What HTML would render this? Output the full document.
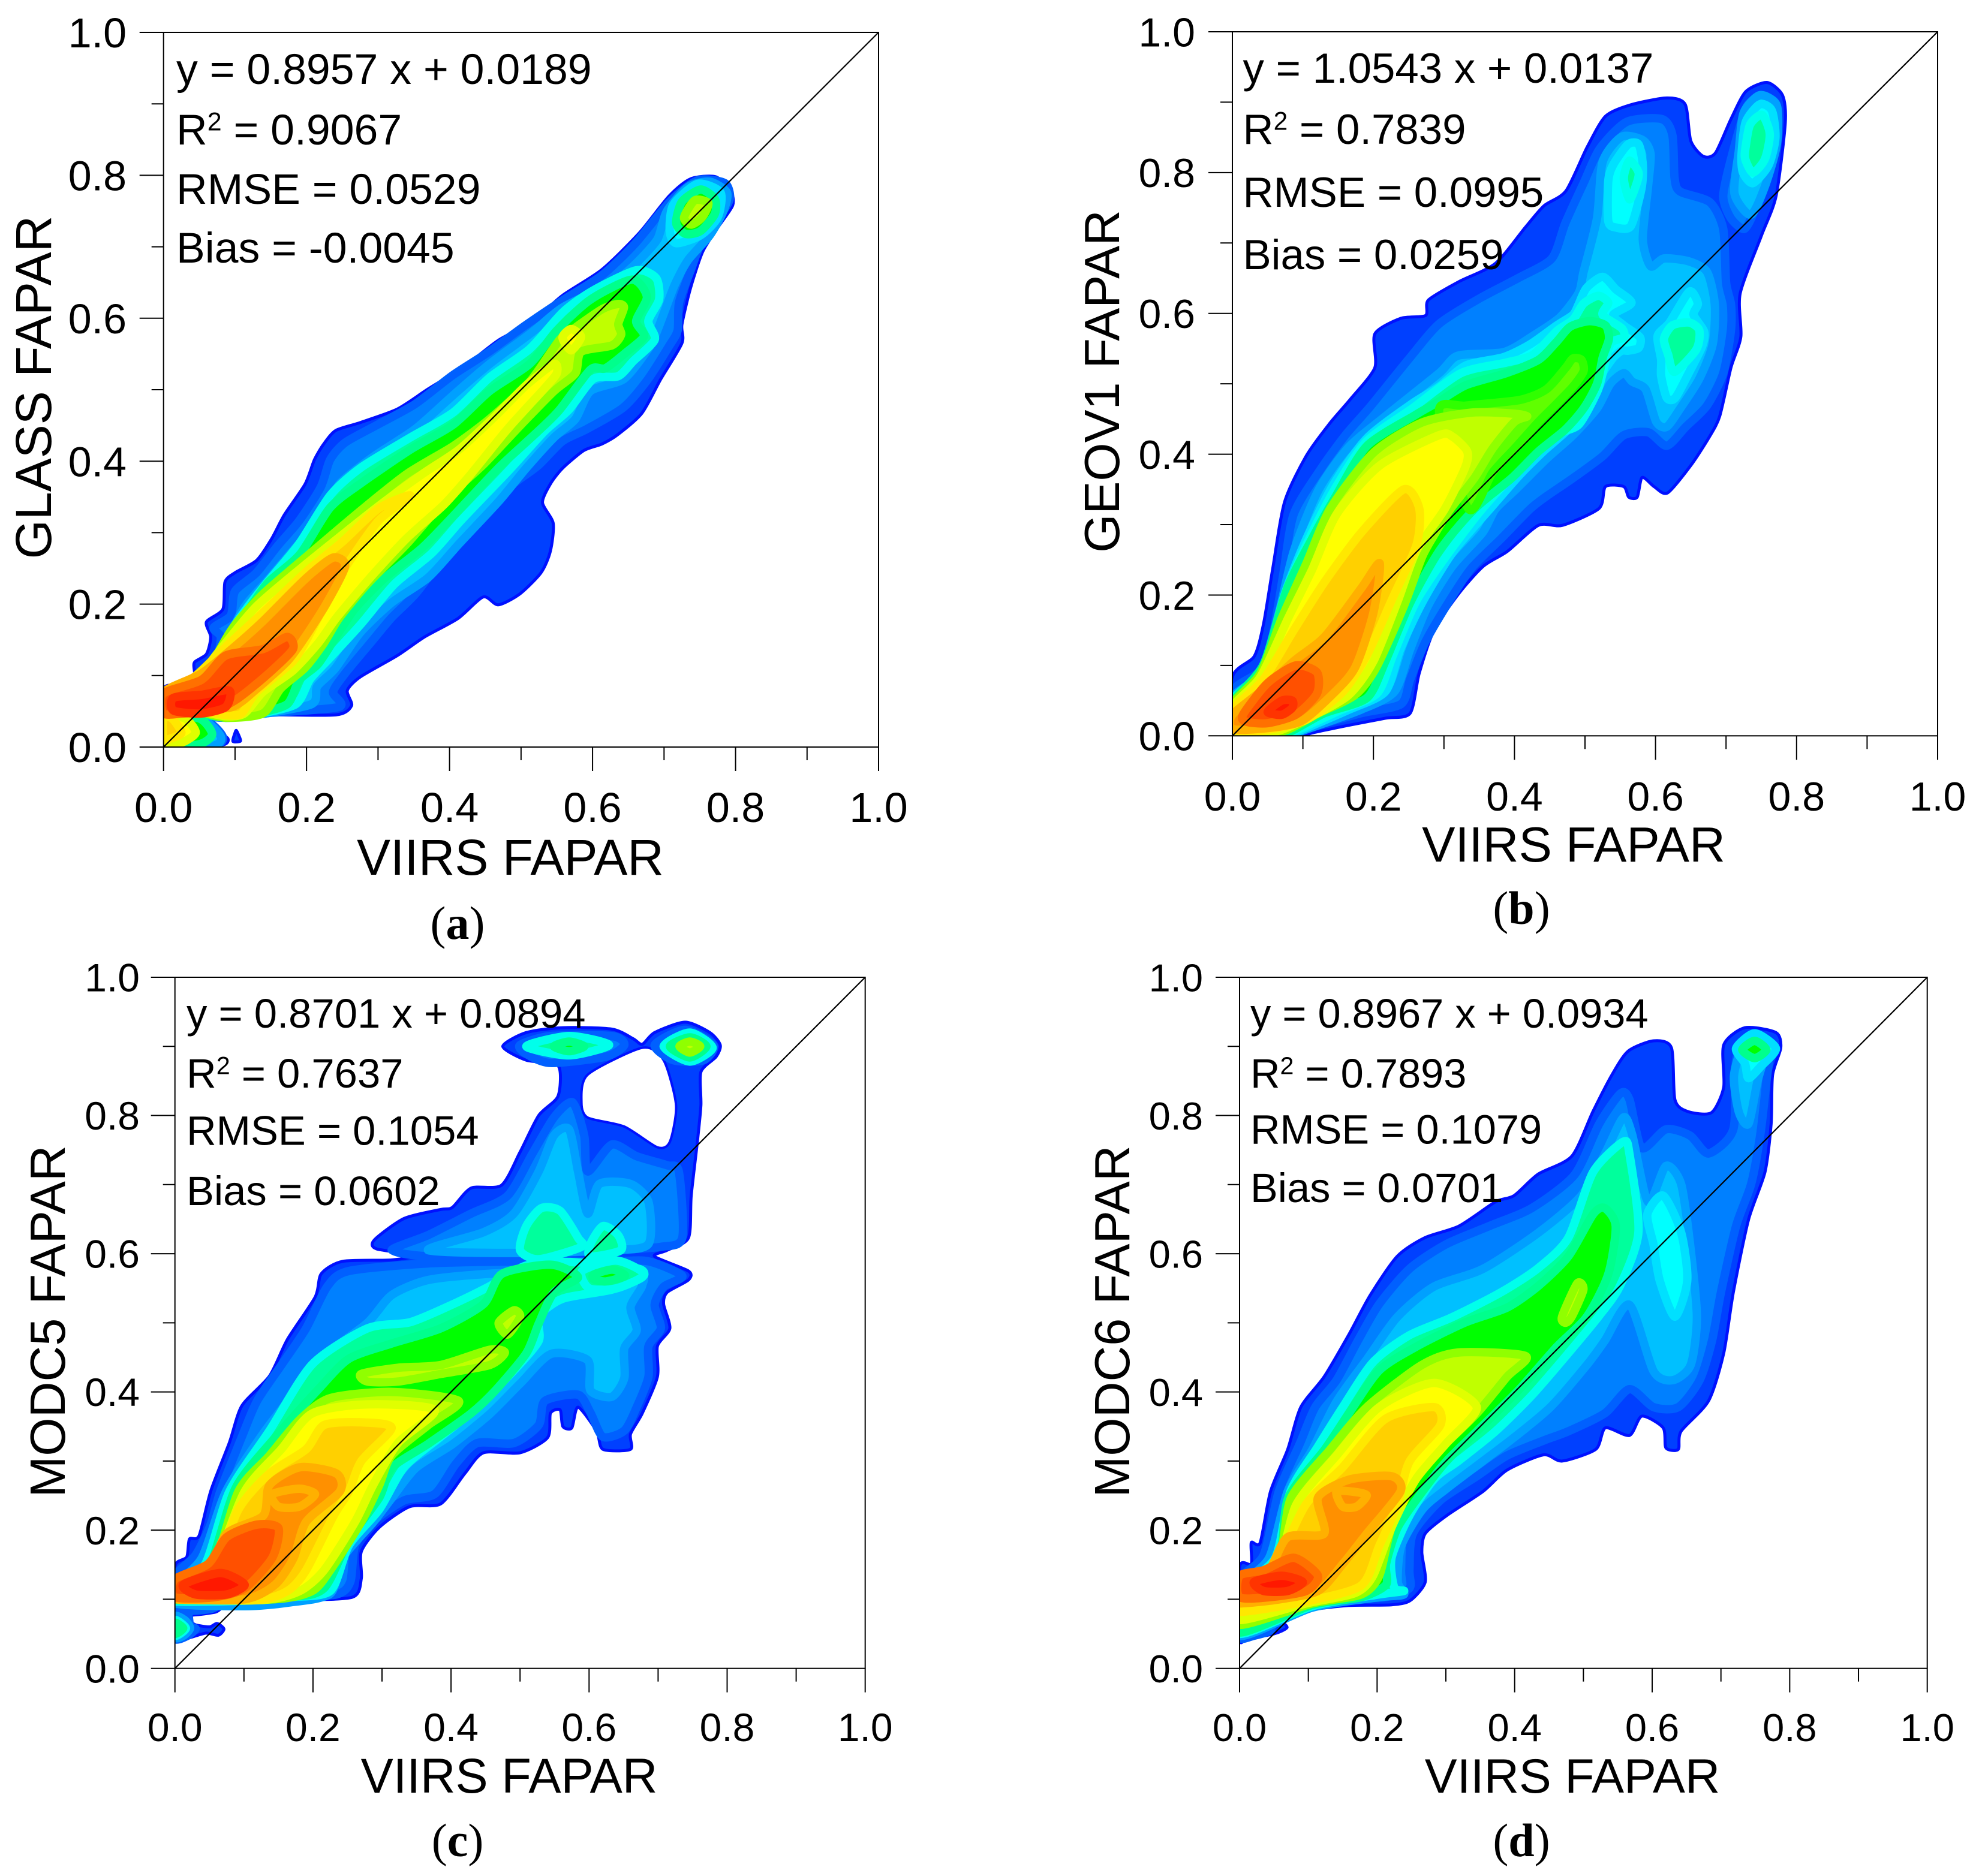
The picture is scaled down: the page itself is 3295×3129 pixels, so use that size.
<!DOCTYPE html>
<html>
<head>
<meta charset="utf-8">
<title>FAPAR density scatter comparison</title>
<style>
html,body{margin:0;padding:0;background:#fff}
svg{display:block}
text{font-family:"Liberation Sans",sans-serif;fill:#000}
.cap{font-family:"Liberation Serif",serif}
</style>
</head>
<body>
<svg id="figure" xmlns="http://www.w3.org/2000/svg" width="3295" height="3129" viewBox="0 0 3295 3129">
<rect width="3295" height="3129" fill="#fff"/>
</svg>
<script>
// ---- shared axis data ----
const majorTicks = [0, 0.2, 0.4, 0.6, 0.8, 1.0];
const minorTicks = [0.1, 0.3, 0.5, 0.7, 0.9];
const tickLabels = ['0.0', '0.2', '0.4', '0.6', '0.8', '1.0'];
const identityLine = [0, 1];

// ---- panel (a) density contours, [VIIRS, GLASS] ----
const aOuter = [[0,.081],[.027,.084],[.043,.098],[.043,.118],[.06,.13],[.066,.154],[.06,.175],[.083,.193],[.086,.231],[.1,.244],[.13,.261],[.151,.291],[.169,.325],[.198,.368],[.211,.402],[.224,.424],[.241,.443],[.275,.454],[.327,.473],[.37,.501],[.421,.533],[.468,.569],[.515,.595],[.558,.632],[.613,.668],[.665,.719],[.707,.771],[.737,.795],[.772,.798],[.793,.779],[.796,.758],[.776,.728],[.754,.693],[.737,.642],[.725,.591],[.725,.565],[.695,.514],[.669,.467],[.635,.437],[.613,.424],[.588,.415],[.558,.39],[.541,.368],[.53,.342],[.545,.313],[.541,.274],[.528,.244],[.498,.214],[.468,.199],[.447,.21],[.412,.18],[.365,.154],[.327,.128],[.275,.098],[.257,.079],[.263,.058],[.241,.045],[.139,.045],[.087,.04],[.056,.034],[.073,.024],[.09,.012],[.083,.003],[.03,0],[-.01,-.01]];
const aSpeck = [[.097,.008],[.1,.02],[.102,.023],[.107,.012],[.107,.008]];
const aMidBlue = [[0,.073],[.027,.079],[.053,.107],[.074,.124],[.08,.154],[.07,.167],[.094,.184],[.1,.218],[.13,.244],[.16,.282],[.19,.317],[.22,.364],[.233,.402],[.254,.426],[.301,.452],[.352,.48],[.404,.52],[.455,.553],[.506,.59],[.558,.625],[.613,.66],[.66,.705],[.708,.763],[.747,.793],[.785,.789],[.792,.767],[.777,.741],[.751,.703],[.738,.669],[.721,.622],[.719,.583],[.707,.561],[.677,.514],[.643,.475],[.592,.445],[.558,.428],[.524,.394],[.489,.368],[.464,.343],[.43,.309],[.392,.266],[.353,.215],[.319,.181],[.293,.15],[.254,.103],[.237,.077],[.245,.056],[.139,.047],[.087,.041],[.053,.043],[0,.04]];
const aMidBlueBlob = [[0,.042],[.06,.036],[.083,.014],[.07,.001],[0,0]];
const aLightBlue = [[0,.07],[.036,.081],[.066,.115],[.092,.137],[.1,.171],[.117,.201],[.147,.235],[.18,.274],[.224,.325],[.246,.368],[.293,.406],[.352,.445],[.408,.495],[.456,.536],[.515,.58],[.558,.615],[.619,.645],[.64,.658],[.666,.682],[.691,.711],[.704,.75],[.734,.784],[.764,.791],[.788,.776],[.783,.75],[.764,.716],[.734,.682],[.715,.647],[.702,.613],[.689,.579],[.678,.557],[.644,.515],[.597,.498],[.576,.459],[.546,.433],[.507,.39],[.469,.344],[.413,.284],[.37,.237],[.319,.202],[.275,.16],[.24,.11],[.215,.085],[.207,.06],[.13,.045],[.087,.041],[.053,.047],[0,.042]];
const aLightBlueBlob = [[0,.042],[.055,.038],[.08,.015],[.07,.002],[0,0]];
const aTopCyan = [[.708,.722],[.713,.759],[.747,.788],[.779,.776],[.775,.741],[.751,.716],[.717,.705]];
const aAqua = [[0,.07],[.04,.081],[.068,.113],[.091,.135],[.098,.167],[.12,.199],[.147,.233],[.19,.285],[.233,.352],[.276,.391],[.345,.433],[.405,.468],[.456,.517],[.512,.557],[.559,.609],[.601,.639],[.661,.667],[.689,.656],[.693,.626],[.678,.596],[.687,.57],[.657,.54],[.636,.519],[.601,.515],[.567,.472],[.533,.442],[.482,.386],[.417,.318],[.375,.271],[.323,.228],[.276,.172],[.233,.125],[.205,.095],[.185,.06],[.13,.046],[.087,.041],[.05,.047],[0,.042]];
const aGreen = [[0,.07],[.044,.081],[.07,.111],[.09,.133],[.096,.163],[.122,.197],[.147,.231],[.191,.27],[.233,.335],[.276,.369],[.345,.416],[.405,.451],[.456,.498],[.512,.536],[.55,.583],[.597,.626],[.655,.654],[.676,.63],[.661,.596],[.672,.575],[.648,.553],[.618,.53],[.597,.528],[.554,.472],[.524,.442],[.469,.391],[.404,.322],[.362,.279],[.31,.237],[.268,.194],[.241,.154],[.216,.116],[.19,.094],[.173,.06],[.13,.047],[.087,.041],[.044,.047],[0,.042]];
const aGreenBlob = [[0,.042],[.05,.04],[.068,.018],[.05,.004],[0,.002]];
const aTopGreen = [[.717,.733],[.725,.763],[.751,.78],[.771,.767],[.771,.746],[.751,.722],[.73,.718]];
const aLime = [[0,.073],[.053,.087],[.079,.137],[.1,.171],[.139,.214],[.198,.265],[.276,.331],[.34,.382],[.405,.421],[.456,.459],[.512,.511],[.554,.57],[.576,.587],[.614,.613],[.636,.62],[.644,.615],[.636,.592],[.64,.577],[.627,.562],[.584,.553],[.576,.523],[.546,.498],[.499,.45],[.447,.395],[.396,.348],[.34,.284],[.285,.228],[.246,.181],[.224,.145],[.198,.111],[.164,.082],[.139,.047],[.087,.041],[.044,.05],[0,.042]];
const aTopLime = [[.728,.741],[.743,.765],[.762,.761],[.753,.741],[.738,.731]];
const aYellow = [[0,.077],[.044,.094],[.083,.141],[.13,.197],[.198,.255],[.298,.335],[.362,.382],[.413,.416],[.464,.463],[.507,.506],[.546,.536],[.55,.523],[.533,.502],[.482,.446],[.43,.382],[.392,.339],[.34,.292],[.289,.237],[.242,.181],[.216,.145],[.181,.107],[.139,.077],[.113,.047],[.087,.043],[.044,.051],[0,.045]];
const aYellowSmall = [[.558,.573],[.57,.585],[.584,.574],[.57,.555]];
const aYellowBlob = [[0,.042],[.03,.04],[.045,.02],[.025,.006],[0,.004]];
const aGold = [[0,.073],[.044,.099],[.092,.145],[.139,.188],[.198,.244],[.25,.287],[.301,.334],[.345,.352],[.301,.317],[.258,.257],[.233,.214],[.207,.163],[.181,.12],[.13,.077],[.109,.047],[.087,.045],[.044,.051],[0,.045]];
const aGoldBlob = [[0,.04],[.012,.04],[.025,.02],[.01,.012],[0,.012]];
const aOrange = [[0,.077],[.053,.103],[.1,.141],[.139,.176],[.198,.235],[.237,.265],[.254,.253],[.228,.201],[.198,.154],[.173,.12],[.13,.081],[.096,.056],[.044,.053],[0,.047]];
const aRedOrange = [[0,.075],[.053,.094],[.087,.128],[.139,.137],[.173,.154],[.181,.137],[.147,.103],[.104,.068],[.07,.051],[.027,.047],[0,.047]];
const aRed = [[.014,.069],[.053,.073],[.092,.079],[.087,.056],[.053,.047],[.014,.051]];

// ---- panel (b) density contours, [VIIRS, GEOV1] ----
const bOuter = [[0,.084],[.031,.113],[.044,.158],[.057,.236],[.074,.332],[.105,.398],[.139,.445],[.169,.48],[.202,.523],[.202,.571],[.239,.593],[.274,.597],[.278,.619],[.321,.645],[.373,.671],[.416,.723],[.442,.753],[.473,.774],[.503,.836],[.529,.88],[.564,.896],[.616,.906],[.642,.897],[.65,.845],[.668,.823],[.685,.828],[.707,.876],[.728,.915],[.758,.928],[.78,.91],[.784,.871],[.771,.767],[.75,.71],[.72,.628],[.721,.567],[.707,.523],[.691,.454],[.676,.424],[.65,.384],[.617,.345],[.598,.354],[.581,.367],[.574,.339],[.562,.339],[.555,.354],[.529,.354],[.52,.323],[.468,.299],[.434,.299],[.39,.262],[.356,.241],[.321,.202],[.286,.15],[.265,.089],[.252,.032],[.217,.025],[.165,.015],[.113,.004],[.083,-.005],[-.01,-.01]];
const bMidBlue = [[0,.063],[.04,.093],[.057,.141],[.072,.228],[.087,.315],[.126,.38],[.161,.428],[.195,.467],[.25,.535],[.293,.585],[.35,.621],[.407,.651],[.453,.678],[.472,.728],[.498,.785],[.521,.834],[.559,.872],[.609,.876],[.624,.853],[.627,.792],[.635,.773],[.677,.758],[.696,.72],[.7,.644],[.707,.613],[.707,.576],[.696,.515],[.673,.469],[.643,.439],[.616,.412],[.59,.431],[.555,.427],[.525,.397],[.483,.366],[.445,.34],[.422,.322],[.381,.28],[.338,.237],[.303,.184],[.273,.132],[.252,.08],[.239,.045],[.182,.032],[.105,.01],[.079,-.005],[-.01,-.01]];
const bMidBlueLobe = [[.696,.766],[.707,.819],[.73,.895],[.757,.906],[.772,.895],[.772,.845],[.756,.788],[.741,.747],[.726,.72],[.707,.735]];
const bLightBlue = [[0,.054],[.04,.089],[.066,.175],[.087,.262],[.122,.349],[.165,.41],[.217,.454],[.293,.515],[.32,.54],[.385,.545],[.426,.568],[.464,.594],[.491,.629],[.498,.659],[.517,.735],[.525,.815],[.552,.851],[.582,.846],[.593,.826],[.589,.777],[.582,.705],[.593,.667],[.612,.678],[.647,.674],[.673,.659],[.684,.613],[.681,.556],[.662,.507],[.635,.465],[.616,.439],[.601,.446],[.586,.492],[.567,.503],[.555,.515],[.536,.5],[.517,.465],[.483,.427],[.445,.393],[.403,.351],[.373,.322],[.355,.289],[.312,.241],[.277,.184],[.252,.123],[.23,.063],[.182,.037],[.096,.006],[.06,-.005],[-.01,-.01]];
const bLightBlueLobe = [[.718,.83],[.725,.885],[.748,.91],[.772,.895],[.772,.84],[.755,.78],[.735,.74],[.712,.77]];
const bCyan = [[0,.05],[.044,.097],[.074,.201],[.105,.28],[.144,.358],[.191,.423],[.252,.47],[.293,.496],[.331,.526],[.385,.538],[.422,.556],[.46,.583],[.483,.598],[.491,.613],[.502,.636],[.525,.652],[.544,.634],[.566,.615],[.54,.598],[.555,.583],[.578,.566],[.576,.551],[.561,.547],[.552,.547],[.54,.537],[.525,.515],[.514,.488],[.483,.442],[.441,.404],[.407,.37],[.365,.322],[.312,.26],[.269,.189],[.238,.123],[.217,.063],[.165,.037],[.087,.004],[.05,-.005],[-.01,-.01]];
const bCentreCyan = [[.533,.788],[.54,.811],[.561,.84],[.576,.84],[.582,.811],[.58,.777],[.565,.724],[.544,.722],[.533,.731]];
const bRightCyan = [[.603,.568],[.62,.587],[.648,.631],[.66,.614],[.654,.598],[.669,.574],[.666,.553],[.647,.515],[.628,.48],[.616,.48],[.608,.511],[.608,.534]];
const bLobeCyan = [[.722,.826],[.728,.872],[.748,.897],[.765,.888],[.77,.849],[.76,.81],[.738,.785],[.724,.8]];
const bAqua = [[0,.049],[.044,.099],[.076,.205],[.109,.28],[.145,.35],[.19,.418],[.255,.465],[.324,.515],[.388,.53],[.426,.541],[.46,.575],[.483,.591],[.498,.614],[.519,.625],[.533,.615],[.525,.598],[.552,.579],[.555,.566],[.536,.557],[.525,.515],[.517,.488],[.491,.442],[.457,.427],[.419,.393],[.354,.322],[.303,.255],[.26,.19],[.228,.115],[.205,.06],[.15,.035],[.082,.004],[.045,-.005],[-.01,-.01]];
const bCentreAqua = [[.555,.792],[.563,.817],[.576,.8],[.572,.781],[.563,.762]];
const bRightAqua = [[.612,.564],[.624,.583],[.648,.587],[.662,.576],[.658,.549],[.627,.517],[.618,.541]];
const bLobeAqua = [[.728,.838],[.734,.868],[.751,.882],[.762,.855],[.755,.819],[.738,.8],[.727,.82]];
const bGreen = [[0,.047],[.044,.101],[.078,.21],[.113,.28],[.147,.341],[.191,.412],[.26,.456],[.293,.475],[.331,.498],[.388,.515],[.434,.534],[.46,.56],[.479,.581],[.506,.589],[.529,.583],[.534,.564],[.525,.537],[.517,.5],[.498,.465],[.472,.435],[.434,.404],[.396,.366],[.343,.322],[.295,.265],[.252,.189],[.217,.106],[.191,.054],[.13,.032],[.078,.004],[.04,-.005],[-.01,-.01]];
const bYellowGreen = [[.293,.461],[.331,.469],[.407,.477],[.445,.492],[.472,.522],[.483,.536],[.495,.534],[.498,.518],[.483,.496],[.457,.469],[.434,.446],[.4,.408],[.369,.374],[.335,.322]];
const bLime = [[0,.045],[.04,.089],[.07,.167],[.105,.245],[.139,.323],[.2,.402],[.269,.445],[.338,.459],[.394,.458],[.418,.454],[.4,.446],[.369,.408],[.343,.366],[.309,.322],[.286,.285],[.269,.254],[.243,.184],[.204,.097],[.174,.058],[.122,.032],[.07,.006],[0,.002]];
const bYellow = [[0,.041],[.04,.084],[.079,.167],[.113,.236],[.148,.315],[.209,.384],[.293,.427],[.312,.425],[.333,.404],[.33,.381],[.301,.322],[.261,.263],[.235,.193],[.2,.106],[.165,.058],[.113,.028],[.061,.006],[0,.003]];
const bGold = [[0,.037],[.044,.08],[.087,.15],[.131,.219],[.183,.289],[.243,.35],[.265,.323],[.261,.271],[.226,.193],[.191,.115],[.157,.063],[.105,.023],[.053,.009],[0,.006]];
const bOrange = [[0,.03],[.04,.063],[.087,.106],[.131,.141],[.183,.21],[.209,.245],[.2,.175],[.174,.097],[.139,.056],[.096,.02],[.04,.01],[0,.01]];
const bRedOrange = [[.015,.03],[.05,.075],[.09,.1],[.12,.09],[.12,.06],[.09,.03],[.05,.018],[.02,.02]];
const bRed = [[.05,.034],[.07,.05],[.085,.05],[.085,.04],[.07,.03]];

// ---- panel (c) density contours, [VIIRS, MODC5] ----
const cOuter = [[0,.148],[.017,.161],[.021,.187],[.035,.192],[.052,.257],[.079,.327],[.097,.38],[.137,.423],[.163,.476],[.203,.537],[.212,.571],[.243,.589],[.314,.591],[.35,.598],[.292,.607],[.289,.62],[.332,.651],[.385,.664],[.402,.667],[.429,.695],[.473,.699],[.5,.747],[.527,.8],[.555,.828],[.555,.872],[.509,.88],[.475,.9],[.509,.92],[.562,.927],[.633,.925],[.664,.911],[.677,.903],[.695,.92],[.739,.935],[.775,.92],[.79,.902],[.784,.885],[.762,.863],[.762,.815],[.757,.763],[.748,.684],[.744,.623],[.713,.605],[.695,.596],[.744,.575],[.744,.562],[.713,.544],[.708,.527],[.717,.492],[.699,.466],[.699,.422],[.677,.369],[.66,.339],[.66,.317],[.62,.317],[.611,.343],[.584,.378],[.575,.348],[.562,.35],[.558,.374],[.544,.369],[.54,.334],[.5,.312],[.447,.312],[.42,.282],[.385,.238],[.34,.234],[.296,.204],[.27,.169],[.27,.13],[.257,.103],[.172,.098],[.101,.089],[.075,.094],[.057,.081],[0,.081]];
const cHole = [[.598,.859],[.677,.898],[.708,.88],[.726,.815],[.717,.762],[.699,.754],[.651,.784],[.598,.797],[.589,.819]];
const cBlobOuter = [[0,.081],[.023,.081],[.024,.068],[.03,.063],[.05,.06],[.061,.065],[.071,.057],[.063,.048],[.045,.051],[.02,.044],[0,.041]];
const cBlobMidBlue = [[0,.08],[.018,.08],[.022,.062],[.03,.057],[.018,.047],[0,.043]];
const cBlobLightBlue = [[0,.075],[.014,.07],[.022,.058],[.012,.047],[0,.045]];
const cBlobAqua = [[0,.07],[.016,.058],[0,.047]];
const cBlobGreen = [[0,.066],[.012,.058],[0,.05]];
const cMidBlue = [[0,.133],[.03,.164],[.052,.209],[.066,.257],[.097,.335],[.119,.387],[.155,.44],[.19,.492],[.221,.553],[.252,.575],[.367,.586],[.509,.589],[.633,.589],[.686,.589],[.735,.568],[.708,.552],[.695,.526],[.704,.492],[.686,.466],[.686,.422],[.669,.378],[.651,.344],[.62,.335],[.602,.37],[.584,.396],[.536,.387],[.527,.352],[.491,.326],[.438,.326],[.407,.296],[.376,.252],[.332,.243],[.287,.212],[.261,.178],[.254,.125],[.234,.107],[.163,.103],[.101,.094],[.075,.099],[.052,.086],[0,.086]];
const cUpperMidBlue = [[.314,.605],[.367,.627],[.429,.658],[.482,.684],[.518,.745],[.549,.797],[.576,.819],[.593,.771],[.598,.719],[.633,.758],[.669,.741],[.713,.728],[.73,.719],[.735,.623],[.704,.61],[.633,.605],[.545,.6],[.456,.596],[.367,.596]];
const cTopMidBlue = [[.5,.902],[.544,.915],[.633,.915],[.651,.902],[.624,.885],[.544,.876],[.509,.889]];
const cCornerMidBlue = [[.695,.902],[.739,.924],[.78,.902],[.766,.88],[.722,.88]];
const cLightBlue = [[0,.12],[.039,.16],[.074,.256],[.128,.34],[.182,.41],[.217,.453],[.279,.5],[.314,.54],[.367,.562],[.456,.571],[.545,.574],[.669,.571],[.677,.554],[.66,.523],[.669,.489],[.651,.463],[.651,.42],[.633,.393],[.602,.402],[.598,.446],[.545,.455],[.5,.412],[.456,.368],[.403,.325],[.349,.29],[.314,.246],[.287,.211],[.243,.16],[.225,.108],[.163,.095],[.101,.09],[0,.094]];
const cUpperLightBlue = [[.367,.605],[.447,.631],[.491,.658],[.527,.719],[.549,.771],[.571,.78],[.584,.719],[.598,.658],[.615,.701],[.66,.701],[.686,.675],[.686,.614],[.633,.605],[.5,.601]];
const cAqua = [[0,.112],[.044,.151],[.079,.256],[.137,.344],[.199,.44],[.279,.492],[.341,.501],[.403,.527],[.456,.553],[.509,.583],[.571,.588],[.669,.579],[.677,.566],[.633,.548],[.562,.535],[.527,.509],[.527,.474],[.491,.431],[.438,.378],[.385,.335],[.332,.291],[.296,.23],[.252,.178],[.225,.112],[.163,.103],[.101,.098],[0,.097]];
const cUpperAqua = [[.5,.605],[.509,.64],[.531,.666],[.558,.662],[.584,.623],[.589,.61],[.527,.592]];
const cUpperSmallAqua = [[.602,.614],[.62,.64],[.642,.627],[.646,.605],[.602,.596]];
const cRightAqua = [[.59,.575],[.64,.59],[.68,.57],[.64,.55],[.6,.55]];
const cTopAqua = [[.509,.9],[.571,.915],[.629,.902],[.571,.887]];
const cCornerAqua = [[.708,.9],[.746,.92],[.779,.898],[.746,.878]];
const cGreen = [[0,.109],[.048,.142],[.088,.261],[.146,.335],[.208,.404],[.252,.448],[.314,.47],[.385,.492],[.447,.527],[.474,.571],[.545,.584],[.584,.566],[.549,.544],[.527,.499],[.509,.456],[.465,.403],[.429,.369],[.367,.325],[.314,.29],[.296,.247],[.252,.186],[.216,.116],[.163,.103],[0,.099]];
const cRightGreen = [[.607,.57],[.634,.577],[.652,.568],[.625,.56],[.607,.563]];
const cTopGreen = [[.549,.9],[.571,.907],[.593,.9],[.571,.893]];
const cCornerGreen = [[.717,.9],[.746,.913],[.77,.9],[.746,.884]];
const cLime = [[0,.107],[.052,.138],[.092,.256],[.137,.308],[.181,.36],[.225,.391],[.314,.4],[.411,.387],[.367,.352],[.314,.308],[.296,.265],[.27,.212],[.225,.142],[.199,.112],[.145,.1],[0,.1]];
const cRidgeLime = [[.27,.426],[.323,.435],[.385,.439],[.456,.461],[.478,.457],[.456,.439],[.385,.426],[.323,.415],[.279,.415]];
const cSmallLime = [[.469,.5],[.491,.518],[.5,.509],[.482,.483]];
const cCornerLime = [[.731,.9],[.746,.907],[.761,.9],[.746,.891]];
const cYellow = [[0,.106],[.052,.138],[.101,.256],[.154,.317],[.199,.369],[.279,.382],[.376,.374],[.323,.326],[.287,.265],[.261,.212],[.216,.142],[.181,.112],[.128,.099],[0,.1]];
const cGold = [[0,.107],[.052,.133],[.092,.23],[.137,.282],[.19,.317],[.216,.352],[.27,.356],[.314,.348],[.27,.3],[.252,.256],[.23,.221],[.19,.142],[.163,.112],[.119,.099],[0,.1]];
const cOrange = [[0,.107],[.048,.138],[.075,.195],[.128,.221],[.137,.265],[.181,.291],[.234,.282],[.239,.256],[.19,.212],[.172,.16],[.145,.121],[.101,.1],[0,.1]];
const cSmallOrange = [[.141,.252],[.18,.26],[.203,.252],[.18,.234],[.15,.234]];
const cRedOrange = [[0,.129],[.048,.151],[.075,.19],[.119,.208],[.15,.203],[.141,.16],[.101,.116],[.057,.103],[0,.103]];
const cRed = [[.012,.121],[.066,.138],[.101,.121],[.075,.107],[.03,.107]];

// ---- panel (d) density contours, [VIIRS, MODC6] ----
const dOuter = [[0,.147],[.017,.151],[.017,.182],[.03,.182],[.045,.256],[.07,.317],[.089,.378],[.123,.422],[.159,.483],[.19,.54],[.229,.596],[.269,.623],[.319,.64],[.372,.675],[.399,.684],[.434,.715],[.483,.741],[.514,.806],[.541,.858],[.565,.893],[.602,.908],[.628,.898],[.633,.823],[.651,.806],[.686,.804],[.704,.841],[.704,.902],[.735,.927],[.78,.92],[.787,.898],[.775,.858],[.773,.788],[.764,.718],[.74,.649],[.718,.544],[.704,.456],[.682,.387],[.642,.343],[.638,.317],[.62,.319],[.616,.348],[.585,.365],[.567,.337],[.532,.348],[.518,.317],[.469,.3],[.442,.309],[.389,.287],[.354,.256],[.301,.221],[.27,.195],[.265,.168],[.27,.125],[.248,.098],[.221,.092],[.159,.091],[.1,.084],[.05,.07],[.059,.069],[.069,.059],[.05,.05],[.011,.043],[0,.043]];
const dMidBlue = [[0,.129],[.035,.164],[.057,.256],[.088,.326],[.11,.378],[.141,.417],[.172,.474],[.203,.527],[.248,.579],[.301,.614],[.363,.64],[.425,.666],[.487,.714],[.523,.788],[.554,.832],[.567,.823],[.585,.753],[.62,.78],[.655,.771],[.682,.745],[.718,.78],[.722,.88],[.74,.911],[.771,.906],[.766,.849],[.757,.771],[.744,.701],[.722,.64],[.7,.544],[.687,.474],[.669,.417],[.638,.378],[.602,.378],[.567,.404],[.531,.369],[.478,.343],[.443,.33],[.389,.308],[.345,.278],[.292,.243],[.252,.195],[.247,.142],[.247,.116],[.212,.103],[.159,.1],[.079,.086],[0,.081]];
const dBlobMidBlue = [[0,.09],[.04,.07],[.045,.055],[.02,.047],[0,.045]];
const dLightBlue = [[0,.116],[.043,.16],[.07,.256],[.106,.317],[.141,.386],[.185,.447],[.229,.508],[.282,.552],[.354,.578],[.434,.63],[.496,.683],[.531,.744],[.558,.797],[.571,.772],[.594,.675],[.62,.727],[.642,.701],[.655,.614],[.665,.509],[.656,.439],[.63,.417],[.602,.43],[.567,.526],[.531,.474],[.505,.439],[.452,.378],[.399,.334],[.354,.3],[.301,.26],[.266,.23],[.235,.177],[.23,.125],[.239,.107],[.203,.103],[.106,.088],[0,.047]];
const dLobeLightBlue = [[.719,.858],[.735,.906],[.766,.902],[.753,.849],[.74,.788],[.726,.805]];
const dRightCyan = [[.593,.657],[.616,.684],[.642,.631],[.651,.561],[.633,.509],[.611,.561],[.602,.613]];
const dLobeCyan = [[.722,.897],[.749,.919],[.78,.897],[.758,.871],[.74,.854],[.735,.875]];
const dAqua = [[0,.112],[.052,.16],[.074,.256],[.114,.321],[.15,.378],[.194,.443],[.247,.482],[.309,.508],[.38,.544],[.434,.579],[.478,.623],[.514,.718],[.558,.762],[.567,.744],[.58,.631],[.553,.553],[.522,.509],[.478,.456],[.425,.395],[.372,.343],[.318,.3],[.283,.274],[.247,.221],[.221,.16],[.225,.117],[.239,.112],[.203,.107],[.106,.09],[0,.05]];
const dGreen = [[0,.107],[.057,.16],[.071,.247],[.124,.317],[.159,.369],[.203,.431],[.256,.465],[.327,.5],[.389,.522],[.434,.553],[.478,.596],[.514,.657],[.531,.666],[.547,.64],[.536,.57],[.505,.509],[.461,.465],[.407,.404],[.345,.343],[.301,.3],[.266,.256],[.23,.204],[.213,.151],[.213,.121],[.177,.103],[.106,.092],[0,.052]];
const dLobeGreen = [[.731,.895],[.749,.908],[.766,.895],[.749,.883]];
const dLime = [[0,.107],[.057,.16],[.075,.247],[.132,.317],[.185,.378],[.265,.439],[.318,.457],[.416,.452],[.389,.422],[.345,.369],[.292,.317],[.256,.273],[.221,.204],[.203,.134],[.177,.107],[.106,.094],[0,.063]];
const dSmallLime = [[.469,.509],[.491,.557],[.5,.548],[.483,.509],[.474,.5]];
const dYellow = [[0,.103],[.057,.155],[.083,.238],[.141,.308],[.203,.378],[.283,.413],[.345,.378],[.301,.326],[.256,.273],[.221,.204],[.194,.134],[.168,.109],[.097,.094],[0,.07]];
const dGold = [[0,.103],[.052,.151],[.097,.238],[.15,.291],[.212,.361],[.283,.378],[.292,.352],[.247,.299],[.23,.238],[.203,.177],[.177,.12],[.097,.097],[0,.082]];
const dOrange = [[0,.099],[.043,.142],[.07,.19],[.123,.195],[.114,.247],[.159,.273],[.221,.278],[.234,.256],[.185,.195],[.15,.151],[.114,.112],[.052,.099],[0,.094]];
const dSmallOrange = [[.141,.256],[.17,.255],[.185,.25],[.17,.234],[.15,.234]];
const dRedOrange = [[0,.134],[.035,.142],[.079,.16],[.114,.134],[.097,.112],[.043,.103],[0,.103]];
const dRed = [[.021,.125],[.061,.134],[.092,.125],[.07,.112],[.035,.112]];

// ---- layer lists: [density level, contour] (-1 = empty hole) ----
const aLayers = [[0,aOuter],[0,aSpeck],[1,aMidBlue],[1,aMidBlueBlob],[2,aLightBlue],[2,aLightBlueBlob],[3,aTopCyan],[4,aAqua],[5,aGreen],[5,aGreenBlob],[5,aTopGreen],[7,aLime],[7,aTopLime],[8,aYellow],[8,aYellowSmall],[8,aYellowBlob],[9,aGold],[9,aGoldBlob],[10,aOrange],[11,aRedOrange],[12,aRed]];
const bLayers = [[0,bOuter],[1,bMidBlue],[1,bMidBlueLobe],[2,bLightBlue],[2,bLightBlueLobe],[3,bCyan],[3,bCentreCyan],[3,bRightCyan],[3,bLobeCyan],[4,bAqua],[4,bCentreAqua],[4,bRightAqua],[4,bLobeAqua],[5,bGreen],[6,bYellowGreen],[7,bLime],[8,bYellow],[9,bGold],[10,bOrange],[11,bRedOrange],[12,bRed]];
const cLayers = [[0,cOuter],[0,cBlobOuter],[-1,cHole],[1,cMidBlue],[1,cUpperMidBlue],[1,cTopMidBlue],[1,cCornerMidBlue],[1,cBlobMidBlue],[2,cLightBlue],[2,cUpperLightBlue],[2,cBlobLightBlue],[4,cAqua],[4,cUpperAqua],[4,cUpperSmallAqua],[4,cRightAqua],[4,cTopAqua],[4,cCornerAqua],[4,cBlobAqua],[5,cGreen],[5,cRightGreen],[5,cTopGreen],[5,cCornerGreen],[5,cBlobGreen],[7,cLime],[7,cRidgeLime],[7,cSmallLime],[7,cCornerLime],[8,cYellow],[9,cGold],[10,cOrange],[10,cSmallOrange],[11,cRedOrange],[12,cRed]];
const dLayers = [[0,dOuter],[1,dMidBlue],[1,dBlobMidBlue],[2,dLightBlue],[2,dLobeLightBlue],[3,dRightCyan],[3,dLobeCyan],[4,dAqua],[5,dGreen],[5,dLobeGreen],[7,dLime],[7,dSmallLime],[8,dYellow],[9,dGold],[10,dOrange],[10,dSmallOrange],[11,dRedOrange],[12,dRed]];

// ---- rendering ----
const NS = 'http://www.w3.org/2000/svg';
const svg = document.getElementById('figure');
function palette(level) {
  const colours = [[0,64,255],[0,128,255],[0,192,255],[0,255,255],[0,255,156],[0,255,0],[96,255,0],[192,255,0],[255,255,0],[255,208,0],[255,144,0],[255,80,0],[255,24,0]];
  return colours[level];
}
function rgb(c) { return 'rgb(' + c.map(Math.round).join(',') + ')'; }
function mix(a, b, t) { return a.map((v, i) => v + (b[i] - v) * t); }
function mk(tag, attrs, parent, txt) {
  const el = document.createElementNS(NS, tag);
  for (const k in attrs) el.setAttribute(k, attrs[k]);
  if (txt !== undefined) el.textContent = txt;
  parent.appendChild(el);
  return el;
}
function smoothPath(pts) {
  const n = pts.length;
  let d = 'M' + pts[0][0].toFixed(1) + ' ' + pts[0][1].toFixed(1);
  for (let i = 0; i < n; i++) {
    const p0 = pts[(i - 1 + n) % n], p1 = pts[i], p2 = pts[(i + 1) % n], p3 = pts[(i + 2) % n];
    const c1x = p1[0] + (p2[0] - p0[0]) / 8, c1y = p1[1] + (p2[1] - p0[1]) / 8;
    const c2x = p2[0] - (p3[0] - p1[0]) / 8, c2y = p2[1] - (p3[1] - p1[1]) / 8;
    d += 'C' + c1x.toFixed(1) + ' ' + c1y.toFixed(1) + ' ' + c2x.toFixed(1) + ' ' + c2y.toFixed(1) + ' ' + p2[0].toFixed(1) + ' ' + p2[1].toFixed(1);
  }
  return d + 'Z';
}
function drawPanel(cfg) {
  const g = mk('g', {}, svg);
  
  
  const sx = v => cfg.x0 + (cfg.x1 - cfg.x0) * v;
  const sy = v => cfg.y0 + (cfg.y1 - cfg.y0) * v;
  const clip = mk('clipPath', { id: 'clip-' + cfg.id }, g);
  mk('rect', { x: cfg.x0, y: cfg.y1, width: cfg.x1 - cfg.x0, height: cfg.y0 - cfg.y1 }, clip);
  const field = mk('g', { 'clip-path': 'url(#clip-' + cfg.id + ')' }, g);
  
  
  cfg.layers.forEach(layer => {
    const level = layer[0];
    const d = smoothPath(layer[1].map(p => [sx(p[0]), sy(p[1])]));
    let fill, stroke, sw;
    if (level < 0) { fill = '#fff'; stroke = '#0010ff'; sw = 4; }
    else if (level === 0) { fill = rgb(palette(0)); stroke = '#0010ff'; sw = 5; }
    else {
      const t = level === 5 ? 0.9 : level === 4 ? 0.8 : 0.5;
      fill = rgb(palette(level));
      stroke = rgb(mix(palette(level), palette(level - 1), t));
      sw = 14;
    }
    const path = mk('path', { d: d, fill: fill, stroke: stroke, 'stroke-width': sw, 'stroke-linejoin': 'round' }, field);
    
    
  });
  const line = mk('line', { x1: sx(identityLine[0]), y1: sy(identityLine[0]), x2: sx(identityLine[1]), y2: sy(identityLine[1]), stroke: '#000', 'stroke-width': 2.2 }, g);
  
  
  const frame = mk('rect', { x: cfg.x0, y: cfg.y1, width: cfg.x1 - cfg.x0, height: cfg.y0 - cfg.y1, fill: 'none', stroke: '#000', 'stroke-width': 2 }, g);
  
  
  majorTicks.forEach((v, i) => {
    const tx = mk('line', { x1: sx(v), x2: sx(v), y1: cfg.y0, y2: cfg.y0 + 40, stroke: '#000', 'stroke-width': 2 }, g);
    
    
    const ty = mk('line', { x1: cfg.x0 - 40, x2: cfg.x0, y1: sy(v), y2: sy(v), stroke: '#000', 'stroke-width': 2 }, g);
    
    
    const lx = mk('text', { x: sx(v), y: cfg.xLabelY, 'text-anchor': 'middle', 'font-size': cfg.tickSize }, g, tickLabels[i]);
    
    
    const ly = mk('text', { x: cfg.yLabelX, y: sy(v) + cfg.tickSize * 0.358, 'text-anchor': 'end', 'font-size': cfg.tickSize }, g, tickLabels[i]);
    
    
  });
  minorTicks.forEach(v => {
    const tx = mk('line', { x1: sx(v), x2: sx(v), y1: cfg.y0, y2: cfg.y0 + 22, stroke: '#000', 'stroke-width': 2 }, g);
    
    
    const ty = mk('line', { x1: cfg.x0 - 20, x2: cfg.x0, y1: sy(v), y2: sy(v), stroke: '#000', 'stroke-width': 2 }, g);
    
    
  });
  const xt = mk('text', { x: cfg.xTitle[0], y: cfg.xTitle[1], 'text-anchor': 'middle', 'font-size': cfg.xTitle[2] }, g, 'VIIRS FAPAR');
  
  
  const yt = mk('text', { transform: 'translate(' + cfg.yTitle[0] + ' ' + cfg.yTitle[1] + ') rotate(-90)', 'text-anchor': 'middle', 'font-size': cfg.yTitle[2] }, g, cfg.yName);
  
  
  const s1 = mk('text', { x: cfg.statX, y: cfg.statY[0], 'font-size': cfg.statSize }, g, cfg.stats[0]);
  
  
  const s2 = mk('text', { x: cfg.statX, y: cfg.statY[1], 'font-size': cfg.statSize }, g, 'R');
  
  
  mk('tspan', { dy: -cfg.statSize * 0.33, 'font-size': cfg.statSize * 0.6 }, s2, '2');
  mk('tspan', { dy: cfg.statSize * 0.33 }, s2, ' = ' + cfg.stats[1]);
  const s3 = mk('text', { x: cfg.statX, y: cfg.statY[2], 'font-size': cfg.statSize }, g, 'RMSE = ' + cfg.stats[2]);
  
  
  const s4 = mk('text', { x: cfg.statX, y: cfg.statY[3], 'font-size': cfg.statSize }, g, 'Bias = ' + cfg.stats[3]);
  
  
  const cap = mk('text', { class: 'cap', x: cfg.cap[0], y: cfg.cap[1], 'text-anchor': 'middle', 'font-size': 78 }, g, '(');
  
  
  mk('tspan', { 'font-weight': 'bold' }, cap, cfg.id);
  mk('tspan', {}, cap, ')');
}
drawPanel({ id: 'a', layers: aLayers, x0: 272.7, x1: 1465, y0: 1246, y1: 54, tickSize: 70, xLabelY: 1371, yLabelX: 211, xTitle: [851, 1459, 84], yTitle: [85, 646, 84], yName: 'GLASS FAPAR', statX: 294, statY: [140, 241, 340, 438], statSize: 71.6, stats: ['y = 0.8957 x + 0.0189', '0.9067', '0.0529', '-0.0045'], cap: [763, 1566] });
drawPanel({ id: 'b', layers: bLayers, x0: 2055, x1: 3231, y0: 1227.3, y1: 53, tickSize: 68, xLabelY: 1352, yLabelX: 1993, xTitle: [2624, 1437, 83], yTitle: [1866, 636, 82.5], yName: 'GEOV1 FAPAR', statX: 2072.5, statY: [138, 240, 345, 449], statSize: 70.8, stats: ['y = 1.0543 x + 0.0137', '0.7839', '0.0995', '0.0259'], cap: [2537, 1541] });
drawPanel({ id: 'c', layers: cLayers, x0: 291.7, x1: 1442.7, y0: 2782.7, y1: 1630, tickSize: 66, xLabelY: 2904, yLabelX: 233, xTitle: [849, 2990, 81.2], yTitle: [108, 2204, 82.8], yName: 'MODC5 FAPAR', statX: 311, statY: [1714, 1814, 1909.5, 2010], statSize: 68.8, stats: ['y = 0.8701 x + 0.0894', '0.7637', '0.1054', '0.0602'], cap: [763, 3096] });
drawPanel({ id: 'd', layers: dLayers, x0: 2067, x1: 3213.7, y0: 2782.7, y1: 1630, tickSize: 65, xLabelY: 2904, yLabelX: 2006, xTitle: [2622, 2990, 80.8], yTitle: [1883, 2204, 82.8], yName: 'MODC6 FAPAR', statX: 2085, statY: [1714, 1814, 1907.5, 2005], statSize: 68.6, stats: ['y = 0.8967 x + 0.0934', '0.7893', '0.1079', '0.0701'], cap: [2537, 3096] });
</script>
</body>
</html>
